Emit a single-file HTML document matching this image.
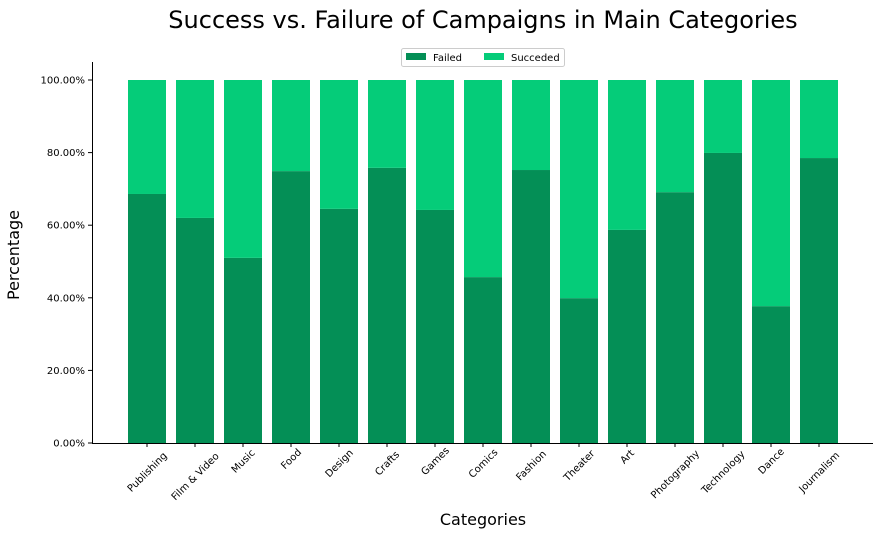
<!DOCTYPE html>
<html><head><meta charset="utf-8"><style>
body{margin:0;background:#fff;width:877px;height:542px;overflow:hidden;font-family:"DejaVu Sans","Liberation Sans",sans-serif}
</style></head><body>
<svg id="chart" width="877" height="542" xmlns="http://www.w3.org/2000/svg" font-family="DejaVu Sans, Liberation Sans, sans-serif">
<text x="483" y="28" font-size="24" text-anchor="middle" fill="#000">Success vs. Failure of Campaigns in Main Categories</text>
<text transform="translate(19,255) rotate(-90)" font-size="16" text-anchor="middle">Percentage</text>
<text x="483" y="525" font-size="16" text-anchor="middle">Categories</text>
<g id="plot"></g>
<g>
<rect x="401.5" y="48.5" width="163" height="18" rx="2" fill="#fff" stroke="#ccc"/>
<rect x="406" y="53" width="20" height="7" fill="#048f56"/>
<text x="433" y="61" font-size="10">Failed</text>
<rect x="484" y="53" width="20" height="7" fill="#05cc79"/>
<text x="511" y="61" font-size="10">Succeded</text>
</g>
</svg>
<script>
const categories=["Publishing","Film & Video","Music","Food","Design","Crafts","Games","Comics","Fashion","Theater","Art","Photography","Technology","Dance","Journalism"];
const failed=[68.6,62.0,51.0,74.9,64.5,75.8,64.2,45.7,75.2,39.9,58.7,69.1,79.9,37.7,78.5];
const succeeded=failed.map(v=>100-v);
const yTicks=[0,20,40,60,80,100];
const NS="http://www.w3.org/2000/svg";
const g=document.getElementById('plot');
const y=v=>443-v*3.63;
const x=i=>147+i*48;
function mk(t,a){const e=document.createElementNS(NS,t);for(const k in a)e.setAttribute(k,a[k]);g.appendChild(e);return e;}
categories.forEach((c,i)=>{
 let r=mk('rect',{x:x(i)-19,y:y(failed[i]),width:38,height:y(0)-y(failed[i]),fill:'#048f56'});
 
 
 let s=mk('rect',{x:x(i)-19,y:y(failed[i]+succeeded[i]),width:38,height:y(failed[i])-y(failed[i]+succeeded[i]),fill:'#05cc79'});
 
 
 let tk=mk('line',{x1:x(i),x2:x(i),y1:443,y2:447,stroke:'#000'});
 
 
 const len=c.length*3.1;
 const cy=450+len*0.707;
 let t=mk('text',{x:x(i),y:cy+3.5,'font-size':10,'text-anchor':'middle',transform:`rotate(-45 ${x(i)} ${cy})`});
 t.textContent=c;
 
 
});
yTicks.forEach(v=>{
 let tk=mk('line',{x1:88,x2:92,y1:y(v),y2:y(v),stroke:'#000'});
 
 
 let t=mk('text',{x:85,y:y(v)+3.5,'font-size':10,'text-anchor':'end'});
 t.textContent=v.toFixed(2)+'%';
 
 
});
let ya=mk('line',{x1:92.5,x2:92.5,y1:62,y2:443.5,stroke:'#000'});


let xa=mk('line',{x1:92,x2:873,y1:443.5,y2:443.5,stroke:'#000'});


</script>
</body></html>
